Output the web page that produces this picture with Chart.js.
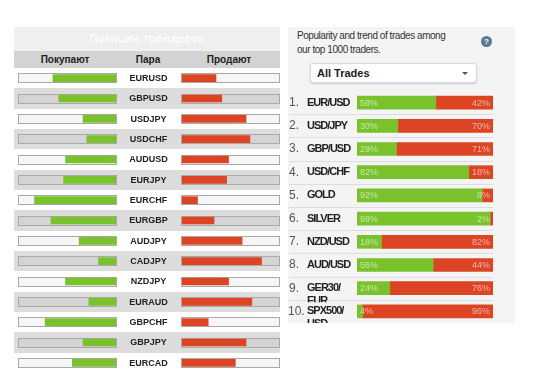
<!DOCTYPE html>
<html>
<head>
<meta charset="utf-8">
<script src="https://cdn.jsdelivr.net/npm/chart.js@4.4.1/dist/chart.umd.min.js"></script>
<style>
body { margin: 0; width: 550px; height: 379px; background: #fff; position: relative; overflow: hidden; font-family: 'Liberation Sans', Arial, sans-serif; }
.abs { position: absolute; }
#lt-title { left: 14px; top: 27px; width: 266px; height: 24px; background: #efefef; color: #fff; font: 11px 'DejaVu Sans'; line-height: 24px; text-align: center; }
#lt-head { left: 14px; top: 51px; width: 266px; height: 17px; background: #d3d3d3; font-weight: bold; font-size: 10px; color: #222; }
#lt-head span { position: absolute; top: 0; line-height: 17px; transform: translateX(-50%); }
#rt-bg { left: 288px; top: 27px; width: 227px; height: 296px; background: #f4f4f4; }
#rt-title { left: 297px; top: 29px; white-space: nowrap; font-size: 10px; letter-spacing: -0.45px; line-height: 14px; color: #333; }
#rt-help { left: 481px; top: 36px; width: 11px; height: 11px; border-radius: 50%; background: #5b7b95; color: #fff; font: bold 8px 'Liberation Sans'; line-height: 11px; text-align: center; }
#rt-drop { left: 310px; top: 63px; width: 165px; height: 18px; background: #fff; border: 1px solid #d8d8d8; border-radius: 3px; box-shadow: 0 1px 2px rgba(0,0,0,0.15); font-weight: bold; font-size: 11px; line-height: 18px; color: #222; }
#rt-drop b { position: absolute; left: 6px; }
#rt-drop i { position: absolute; left: 151px; top: 8px; width: 0; height: 0; border-left: 3px solid transparent; border-right: 3px solid transparent; border-top: 3px solid #555; }
</style>
</head>
<body>
<div class="abs" id="lt-title">Позиции трейдеров</div>
<div class="abs" id="lt-head"><span style="left:51px">Покупают</span><span style="left:134px">Пара</span><span style="left:215px">Продают</span></div>
<canvas class="abs" id="buy" width="167" height="305" style="left:14px;top:68px"></canvas>
<canvas class="abs" id="sell" width="99" height="305" style="left:181px;top:68px"></canvas>

<div class="abs" id="rt-bg"></div>
<div class="abs" id="rt-title">Popularity and trend of trades among<br>our top 1000 traders.</div>
<div class="abs" id="rt-help">?</div>
<div class="abs" id="rt-drop"><b>All Trades</b><i></i></div>
<canvas class="abs" id="trend" width="227" height="232" style="left:288px;top:91px"></canvas>

<script>
// left table: trader positions per pair (percent buying / selling)
const pairs = ['EURUSD', 'GBPUSD', 'USDJPY', 'USDCHF', 'AUDUSD', 'EURJPY', 'EURCHF', 'EURGBP',
    'AUDJPY', 'CADJPY', 'NZDJPY', 'EURAUD', 'GBPCHF', 'GBPJPY', 'EURCAD'];
const buyPct = [65, 59, 34, 30, 52, 54, 84, 67, 38, 18, 52, 28, 73, 34, 45];
const sellPct = [35, 41, 66, 70, 48, 46, 16, 33, 62, 82, 48, 72, 27, 66, 55];

// right list: top 1000 traders
const symbols = ['EUR/USD', 'USD/JPY', 'GBP/USD', 'USD/CHF', 'GOLD', 'SILVER', 'NZD/USD', 'AUD/USD',
    ['GER30/', 'EUR'], ['SPX500/', 'USD']];
const longPct = [58, 30, 29, 82, 92, 98, 18, 56, 24, 4];
const shortPct = [42, 70, 71, 18, 8, 2, 82, 44, 76, 96];

const GREEN = '#7ac22c';
const RED = '#dd4424';

// row stripes + the outlined track behind each bar
const rowBands = {
    id: 'rowBands',
    beforeDraw(chart) {
        const { ctx, scales: { y } } = chart;
        const step = y.getPixelForValue(1) - y.getPixelForValue(0);
        ctx.save();
        chart.data.labels.forEach((p, i) => {
            const yc = y.getPixelForValue(i);
            const top = Math.round(yc - step / 2);
            ctx.fillStyle = i % 2 ? '#dcdcdc' : '#ffffff';
            ctx.fillRect(0, top, chart.width, Math.round(yc + step / 2) - top);
        });
        ctx.restore();
    },
    beforeDatasetsDraw(chart) {
        const { ctx, chartArea: ca, scales: { y } } = chart;
        ctx.save();
        ctx.strokeStyle = '#a9a9a9';
        ctx.fillStyle = 'rgba(0,0,0,0.035)';
        chart.data.labels.forEach((p, i) => {
            const yc = Math.round(y.getPixelForValue(i));
            ctx.fillRect(ca.left - 1, yc - 5, ca.width + 2, 10);
            ctx.strokeRect(ca.left - 0.5, yc - 4.5, ca.width + 1, 9);
        });
        ctx.restore();
    }
};

// pair names in the middle column
const pairNames = {
    id: 'pairNames',
    afterDatasetsDraw(chart) {
        const { ctx, chartArea: ca, scales: { y } } = chart;
        const cx = (ca.right + chart.width) / 2;
        ctx.save();
        ctx.font = "bold 9px 'Liberation Sans'";
        ctx.fillStyle = '#222';
        ctx.textAlign = 'center';
        ctx.textBaseline = 'middle';
        chart.data.labels.forEach((p, i) => ctx.fillText(p, cx, y.getPixelForValue(i) + 0.5));
        ctx.restore();
    }
};

const sideOptions = (reverse, padding) => ({
    indexAxis: 'y',
    responsive: false,
    animation: false,
    layout: { padding: padding },
    scales: {
        x: { min: 0, max: 100, reverse: reverse, display: false },
        y: { display: false }
    },
    plugins: { legend: { display: false }, tooltip: { enabled: false } }
});

new Chart(document.getElementById('buy'), {
    type: 'bar',
    data: { labels: pairs, datasets: [{ data: buyPct, backgroundColor: GREEN, barThickness: 7 }] },
    options: sideOptions(true, { left: 5, right: 65, top: 0, bottom: 0 }),
    plugins: [rowBands, pairNames]
});

new Chart(document.getElementById('sell'), {
    type: 'bar',
    data: { labels: pairs, datasets: [{ data: sellPct, backgroundColor: RED, barThickness: 7 }] },
    options: sideOptions(false, { left: 1, right: 1, top: 0, bottom: 0 }),
    plugins: [rowBands]
});

// separators, rank + name, percentage texts on the bars
const trendDecor = {
    id: 'trendDecor',
    beforeDatasetsDraw(chart) {
        const { ctx, chartArea: ca, scales: { y } } = chart;
        const step = y.getPixelForValue(1) - y.getPixelForValue(0);
        ctx.save();
        ctx.strokeStyle = '#dddddd';
        for (let i = 0; i < chart.data.labels.length - 1; i++) {
            const yy = Math.round(y.getPixelForValue(i) + step / 2) + 0.5;
            ctx.beginPath();
            ctx.moveTo(1, yy);
            ctx.lineTo(ca.right, yy);
            ctx.stroke();
        }
        ctx.restore();
    },
    afterDatasetsDraw(chart) {
        const { ctx, scales: { y } } = chart;
        const step = y.getPixelForValue(1) - y.getPixelForValue(0);
        const longBars = chart.getDatasetMeta(0).data;
        const shortBars = chart.getDatasetMeta(1).data;
        ctx.save();
        ctx.textBaseline = 'middle';
        chart.data.labels.forEach((name, i) => {
            const yc = y.getPixelForValue(i);
            ctx.save();
            ctx.beginPath();
            ctx.rect(0, yc - step / 2, 66, step / 2 + 14);
            ctx.clip();
            ctx.font = "12px 'Liberation Sans'";
            ctx.fillStyle = '#555';
            ctx.textAlign = 'left';
            ctx.fillText((i + 1) + '.', i < 9 ? 1 : 0, yc);
            ctx.font = "bold 11px 'Liberation Sans'";
            ctx.letterSpacing = '-1px';
            ctx.fillStyle = '#222';
            [].concat(name).forEach((line, k) => ctx.fillText(line, 19, yc + k * 13));
            ctx.restore();

            ctx.font = "9px 'Liberation Sans'";
            ctx.fillStyle = 'rgba(255,255,255,0.6)';
            ctx.textAlign = 'left';
            ctx.fillText(longPct[i] + '%', longBars[i].base + 3, yc + 0.5);
            ctx.textAlign = 'right';
            ctx.fillText(shortPct[i] + '%', shortBars[i].x - 3, yc + 0.5);
        });
        ctx.restore();
    }
};

new Chart(document.getElementById('trend'), {
    type: 'bar',
    data: {
        labels: symbols,
        datasets: [
            { label: 'Long', data: longPct, backgroundColor: GREEN, barThickness: 13 },
            { label: 'Short', data: shortPct, backgroundColor: RED, barThickness: 13 }
        ]
    },
    options: {
        indexAxis: 'y',
        responsive: false,
        animation: false,
        layout: { padding: { left: 69, right: 22, top: 0, bottom: 0 } },
        scales: {
            x: { stacked: true, min: 0, max: 100, display: false },
            y: { stacked: true, display: false }
        },
        plugins: { legend: { display: false }, tooltip: { enabled: false } }
    },
    plugins: [trendDecor]
});
</script>
</body>
</html>
